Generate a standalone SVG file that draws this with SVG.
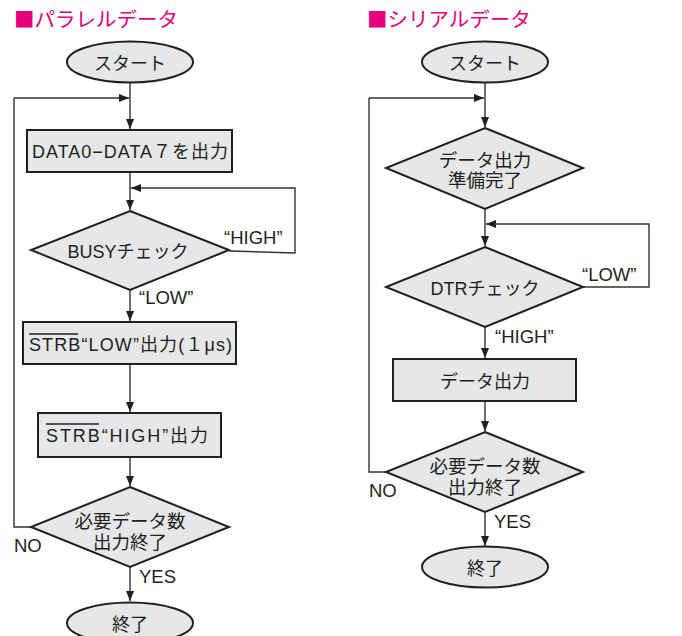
<svg xmlns="http://www.w3.org/2000/svg" width="682" height="636" viewBox="0 0 682 636">
<style>
.shape{fill:#e6e7e8;stroke:#231f20;stroke-width:2}
.conn{fill:none;stroke:#333;stroke-width:1.4}
.t{font-family:"Liberation Sans","Noto Sans CJK JP",sans-serif;font-size:18px;fill:#231f20}
.c{text-anchor:middle}
.lbl{font-family:"Liberation Sans","Noto Sans CJK JP",sans-serif;font-size:18.5px;fill:#231f20}
.title{font-family:"Noto Sans CJK JP","Liberation Sans",sans-serif;font-size:20.5px;fill:#e5007e}
.ov{stroke:#231f20;stroke-width:1.3}
</style>
<defs>
<marker id="ah" viewBox="0 0 10 8" refX="10" refY="4" markerWidth="10" markerHeight="8" markerUnits="userSpaceOnUse" orient="auto">
<path d="M0,0 L10,4 L0,8 Z" fill="#231f20"/>
</marker>
</defs>
<rect width="682" height="636" fill="#ffffff"/>
<text class="title" x="14" y="27">■パラレルデータ</text>
<text class="title" x="367" y="27">■シリアルデータ</text>

<g id="connectors">
<path class="conn" d="M130,83 V129" marker-end="url(#ah)"/>
<path class="conn" d="M14,98 H129" marker-end="url(#ah)"/>
<path class="conn" d="M130,172 V210" marker-end="url(#ah)"/>
<path class="conn" d="M229,251 L295,253 V188 H131" marker-end="url(#ah)"/>
<path class="conn" d="M130,290 V321" marker-end="url(#ah)"/>
<path class="conn" d="M130,364 V412" marker-end="url(#ah)"/>
<path class="conn" d="M130,457 V486" marker-end="url(#ah)"/>
<path class="conn" d="M31,527 H14 V98"/>
<path class="conn" d="M130,567 V601" marker-end="url(#ah)"/>
<path class="conn" d="M485,83 V127" marker-end="url(#ah)"/>
<path class="conn" d="M369,98 H484" marker-end="url(#ah)"/>
<path class="conn" d="M485,209 V246" marker-end="url(#ah)"/>
<path class="conn" d="M583,287 H649 V224 H486" marker-end="url(#ah)"/>
<path class="conn" d="M485,327 V358" marker-end="url(#ah)"/>
<path class="conn" d="M485,401 V431" marker-end="url(#ah)"/>
<path class="conn" d="M386,472 H369 V98"/>
<path class="conn" d="M485,512 V546" marker-end="url(#ah)"/>
</g>

<g id="labels">
<text class="lbl" x="224" y="244">“HIGH”</text>
<text class="lbl" x="139" y="304">“LOW”</text>
<text class="lbl" x="14" y="552">NO</text>
<text class="lbl" x="139" y="583">YES</text>
<text class="lbl" x="582" y="281">“LOW”</text>
<text class="lbl" x="495" y="343">“HIGH”</text>
<text class="lbl" x="369" y="497">NO</text>
<text class="lbl" x="494" y="528">YES</text>
</g>

<g id="p-start">
<ellipse class="shape" cx="130" cy="62" rx="63" ry="20.5"/>
<text class="t c" x="130" y="70">スタート</text>
</g>
<g id="p-data">
<rect class="shape" x="27" y="130" width="205" height="42"/>
<text class="t c" x="130" y="158" textLength="196" lengthAdjust="spacing">DATA0−DATA７を出力</text>
</g>
<g id="p-busy">
<polygon class="shape" points="130,211 229,250 130,290 31,250"/>
<text class="t c" x="128" y="258">BUSYチェック</text>
</g>
<g id="p-strb-low">
<rect class="shape" x="23" y="322" width="213" height="42"/>
<text class="t" x="29" y="351" textLength="203" lengthAdjust="spacing">STRB“LOW”出力(１μs)</text>
<line class="ov" x1="29" y1="334" x2="78" y2="334"/>
</g>
<g id="p-strb-high">
<rect class="shape" x="38" y="413" width="183" height="44"/>
<text class="t" x="46" y="442" textLength="162" lengthAdjust="spacing">STRB“HIGH”出力</text>
<line class="ov" x1="46" y1="424" x2="99" y2="424"/>
</g>
<g id="p-done">
<polygon class="shape" points="130,487 229,527 130,567 31,527"/>
<text class="t c" x="130" y="528" style="font-size:18.5px">必要データ数</text>
<text class="t c" x="130" y="549" style="font-size:18.5px">出力終了</text>
</g>
<g id="p-end">
<ellipse class="shape" cx="130" cy="623" rx="63" ry="20.5"/>
<text class="t c" x="130" y="631">終了</text>
</g>

<g id="s-start">
<ellipse class="shape" cx="485" cy="62" rx="63" ry="20.5"/>
<text class="t c" x="485" y="70">スタート</text>
</g>
<g id="s-ready">
<polygon class="shape" points="485,128 583,168 485,209 386,168"/>
<text class="t c" x="485" y="167" style="font-size:18.5px">データ出力</text>
<text class="t c" x="485" y="187" style="font-size:18.5px">準備完了</text>
</g>
<g id="s-dtr">
<polygon class="shape" points="485,247 583,287 485,327 386,287"/>
<text class="t c" x="485" y="295">DTRチェック</text>
</g>
<g id="s-out">
<rect class="shape" x="393" y="359" width="183" height="42"/>
<text class="t c" x="485" y="388">データ出力</text>
</g>
<g id="s-done">
<polygon class="shape" points="485,432 583,472 485,512 386,472"/>
<text class="t c" x="485" y="473" style="font-size:18.5px">必要データ数</text>
<text class="t c" x="485" y="494" style="font-size:18.5px">出力終了</text>
</g>
<g id="s-end">
<ellipse class="shape" cx="485" cy="567" rx="63" ry="20.5"/>
<text class="t c" x="485" y="575">終了</text>
</g>
</svg>
